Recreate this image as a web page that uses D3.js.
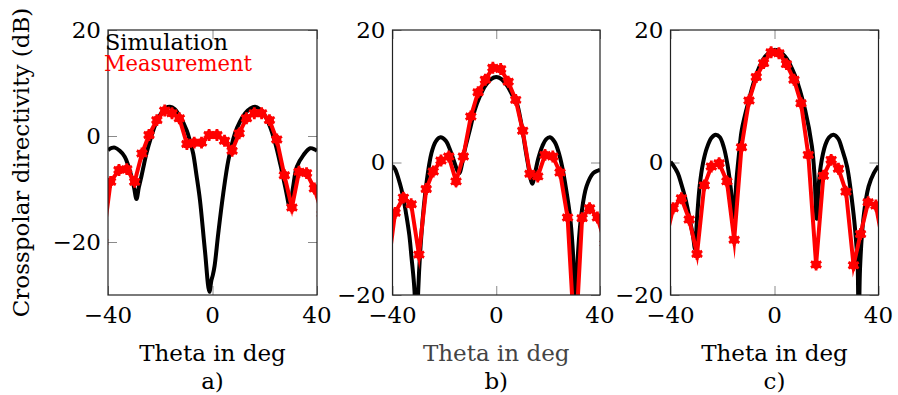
<!DOCTYPE html>
<html>
<head>
<meta charset="utf-8">
<script src="https://cdn.jsdelivr.net/npm/d3@7"></script>
<style>
  html, body { margin: 0; padding: 0; background: #fff; }
  svg { display: block; }
</style>
</head>
<body>
<svg id="chart" width="898" height="395" font-family="'DejaVu Serif', serif"></svg>
<script>
// Measured angles (deg), shared by the three measurement series
const measTheta = [-42.0, -39.0, -35.8, -32.8, -29.8, -27.0, -24.3, -21.3, -18.3, -15.5,
  -12.7, -9.8, -7.0, -4.2, -1.3, 1.7, 4.6, 7.5, 10.2, 13.0,
  16.0, 18.8, 21.8, 24.6, 27.5, 30.4, 33.1, 36.0, 39.0, 42.0];

// Panel a)
const measA = [-20.0, -8.65, -6.4, -6.25, -8.65, -3.3, 0.2, 3.0, 4.8, 4.3,
  3.35, -1.5, -1.25, -1.25, 0.2, 0.2, -0.9, -2.8, 0.5, 3.35,
  4.3, 4.3, 3.0, -0.65, -7.4, -13.5, -6.75, -7.0, -9.9, -14.7];
const simThetaA = [-40, -38.5, -37.4, -35.5, -33.6, -32.3, -31.0, -30.0, -29.1, -28.2,
  -27.2, -26.2, -25.3, -23.5, -21.5, -19.5, -17.8, -16.3, -14.5, -12.5,
  -9.9, -8.6, -7.4, -6.1, -4.8, -2.9, -1.2, -0.4, 0.1, 0.8,
  2.2, 4.1, 6.1, 8.6, 10.5, 12.5, 14.5, 16.3, 18.0, 20.0,
  22.0, 24.0, 26.0, 28.0, 29.6, 30.8, 32.3, 34.8, 37.4, 39.3, 40];
const simA = [-2.65, -2.25, -2.2, -2.8, -3.9, -5.5, -7.7, -9.8, -11.9, -9.7,
  -7.6, -5.3, -3.3, -0.2, 2.6, 4.4, 5.3, 5.5, 5.1, 3.7,
  1.1, -1.0, -3.3, -7.5, -12.1, -21.6, -29.4, -27.2, -26.3, -24.5,
  -18.4, -10.9, -4.5, 0.5, 2.7, 4.3, 5.2, 5.5, 5.1, 3.9,
  1.8, -1.3, -5.4, -10.0, -13.4, -9.8, -5.8, -3.6, -2.3, -2.6, -2.8];

// Panel b)
const measB = [-16.6, -7.6, -5.3, -6.3, -13.9, -4.0, -1.35, 0.3, 0.9, -2.85,
  0.9, 6.95, 10.6, 12.5, 14.3, 14.1, 12.2, 9.45, 4.8, -1.7,
  -2.1, 1.15, 0.9, -1.5, -8.3, -28.0, -8.4, -6.9, -8.3, -12.2];
const simThetaB = [-40, -39, -37.2, -36, -34.6, -33.5, -32.7, -31.5, -30.8, -30.1,
  -28.8, -26.9, -25.0, -23.3, -21.5, -19.5, -17.8, -16.2, -15.0, -14.2,
  -13.4, -12.2, -10.2, -8.3, -6.3, -4.2, -2.0, 0, 2.0, 4.2,
  6.3, 7.9, 9.5, 10.5, 12.0, 13.9, 15.0, 16.2, 17.8, 19.2,
  20.7, 22.5, 24.0, 25.5, 27.0, 28.4, 29.4, 30.1, 30.6, 31.1,
  31.6, 32.9, 34.8, 37.4, 39.3, 40];
const simB = [-0.5, -1.0, -3.1, -5.0, -8.1, -11.0, -14.2, -19.5, -32.0, -19.5,
  -10.6, -3.1, 1.4, 3.2, 3.8, 3.3, 1.9, 0.1, -1.2, -1.6,
  -0.6, 1.8, 4.9, 7.9, 10.0, 11.6, 12.6, 12.9, 12.6, 11.6,
  10.1, 9.0, 6.2, 3.9, 0.3, -3.2, -1.5, 0.6, 2.5, 3.5,
  3.8, 3.1, 1.6, -0.8, -4.2, -8.0, -12.5, -18.0, -30.0, -18.0,
  -13.2, -7.6, -3.6, -1.6, -1.2, -1.1];

// Panel c)
const measC = [-12.0, -6.9, -5.4, -8.6, -13.8, -3.45, -0.6, -0.1, -2.85, -11.65,
  2.3, 9.35, 12.9, 15.0, 16.65, 16.5, 14.85, 12.5, 8.95, 1.15,
  -15.4, -2.0, 0.4, -0.95, -4.4, -15.5, -10.8, -6.0, -6.5, -12.8];
const simThetaC = [-40, -39, -37.2, -35.8, -34.5, -33.5, -32.6, -31.3, -30.6, -29.8,
  -28.8, -27.5, -26.0, -24.3, -22.6, -21.0, -19.5, -18.0, -16.8, -15.7,
  -14.6, -13.6, -12.6, -10.0, -6.8, -3.6, 0, 4.1, 8.0, 11.8,
  14.4, 15.4, 16.2, 17.0, 17.8, 19.5, 21.0, 22.7, 24.5, 26.0,
  27.9, 30.5, 31.5, 32.0, 32.4, 32.9, 34.3, 36.2, 38.2, 40];
const simC = [0.1, -0.4, -1.6, -3.3, -5.1, -6.8, -8.6, -11.2, -13.0, -8.5,
  -3.6, -0.1, 2.2, 3.7, 4.2, 3.8, 2.3, -0.5, -4.0, -8.3,
  -2.5, 1.5, 4.9, 9.2, 13.5, 16.0, 17.0, 16.0, 13.0, 7.9,
  2.4, -2.0, -8.5, -3.5, -0.5, 2.6, 3.8, 4.2, 3.6, 2.0,
  -0.6, -8.1, -12.5, -15.7, -30.0, -16.0, -8.1, -3.6, -1.6, -0.5];

// Axes
const xTicks = [-40, 0, 40];
const yTicks = [-20, 0, 20];
const yDomainA = [-30, 20];
const yDomainBC = [-20, 20];
const xDomain = [-40, 40];

// Text
const panelLabels = ["a)", "b)", "c)"];
const xTitle = "Theta in deg";
const yTitle = "Crosspolar directivity (dB)";
const seriesNames = ["Simulation", "Measurement"];

const panels = [
  { sx: simThetaA, sy: simA, my: measA, yDomain: yDomainA, left: 108, right: 317 },
  { sx: simThetaB, sy: simB, my: measB, yDomain: yDomainBC, left: 392.5, right: 600 },
  { sx: simThetaC, sy: simC, my: measC, yDomain: yDomainBC, left: 670.5, right: 878.5 }
];

const plotTop = 30, plotBottom = 295;
const FONT = 23;
const svg = d3.select("#chart");
const fmt = d3.format("d");

panels.forEach((p, i) => {
  const x = d3.scaleLinear().domain(xDomain).range([p.left, p.right]);
  const y = d3.scaleLinear().domain(p.yDomain).range([plotBottom, plotTop]);
  const g = svg.append("g");
  const clipId = "clip-" + i;

  g.append("clipPath").attr("id", clipId)
    .append("rect")
    .attr("x", p.left).attr("y", plotTop)
    .attr("width", p.right - p.left).attr("height", plotBottom - plotTop);

  // inward ticks on all four sides
  const tickLen = 9;
  const tickColor = "#8a8a8a";
  g.append("g").attr("transform", `translate(0,${plotBottom})`)
    .call(d3.axisTop(x).tickValues(xTicks).tickSize(tickLen).tickFormat(""))
    .call(a => a.select(".domain").remove())
    .selectAll("line").attr("stroke", tickColor);
  g.append("g").attr("transform", `translate(0,${plotTop})`)
    .call(d3.axisBottom(x).tickValues(xTicks).tickSize(tickLen).tickFormat(""))
    .call(a => a.select(".domain").remove())
    .selectAll("line").attr("stroke", tickColor);
  g.append("g").attr("transform", `translate(${p.left},0)`)
    .call(d3.axisRight(y).tickValues(yTicks).tickSize(tickLen).tickFormat(""))
    .call(a => a.select(".domain").remove())
    .selectAll("line").attr("stroke", tickColor);
  g.append("g").attr("transform", `translate(${p.right},0)`)
    .call(d3.axisLeft(y).tickValues(yTicks).tickSize(tickLen).tickFormat(""))
    .call(a => a.select(".domain").remove())
    .selectAll("line").attr("stroke", tickColor);

  // tick labels
  g.selectAll(".xl").data(xTicks).join("text")
    .attr("x", d => x(d)).attr("y", 323)
    .attr("text-anchor", "middle").attr("font-size", FONT)
    .text(d => fmt(d));
  g.selectAll(".yl").data(yTicks).join("text")
    .attr("x", p.left - 7).attr("y", d => y(d)).attr("dy", "0.34em")
    .attr("text-anchor", "end").attr("font-size", FONT)
    .text(d => fmt(d));

  // simulation curve
  const simPts = p.sx.map((t, k) => [t, p.sy[k]]);
  const plot = g.append("g").attr("clip-path", `url(#${clipId})`);
  plot.append("path")
    .datum(simPts)
    .attr("fill", "none").attr("stroke", "#000").attr("stroke-width", 4)
    .attr("stroke-linejoin", "miter").attr("stroke-miterlimit", 10)
    .attr("d", d3.line().x(d => x(d[0])).y(d => y(d[1])).curve(d3.curveCatmullRom.alpha(0.5)));

  // measurement curve with markers
  const measPts = measTheta.map((t, k) => [t, p.my[k]]);
  plot.append("path")
    .datum(measPts)
    .attr("fill", "none").attr("stroke", "#ff0000").attr("stroke-width", 4)
    .attr("stroke-linejoin", "miter").attr("stroke-miterlimit", 10)
    .attr("d", d3.line().x(d => x(d[0])).y(d => y(d[1])));
  const star = d3.symbol().type(d3.symbolAsterisk).size(100);
  const mk = plot.selectAll(".mk").data(measPts).join("g")
    .attr("transform", d => `translate(${x(d[0])},${y(d[1])})`);
  mk.append("circle").attr("r", 4.6).attr("fill", "#ff0000");
  mk.append("path").attr("d", star).attr("stroke", "#ff0000")
    .attr("stroke-width", 2.8).attr("fill", "none");

  // frame
  g.append("rect")
    .attr("x", p.left).attr("y", plotTop)
    .attr("width", p.right - p.left).attr("height", plotBottom - plotTop)
    .attr("fill", "none").attr("stroke", "#222").attr("stroke-width", 1.2);

  // axis title and panel label
  const cx = (p.left + p.right) / 2;
  g.append("text").attr("x", cx).attr("y", 361)
    .attr("text-anchor", "middle").attr("font-size", FONT)
    .attr("fill", i === 1 ? "#444" : "#000")
    .text(xTitle);
  g.append("text").attr("x", cx).attr("y", 389)
    .attr("text-anchor", "middle").attr("font-size", FONT)
    .text(panelLabels[i]);
});

// y axis title
svg.append("text")
  .attr("transform", `translate(29,${(plotTop + plotBottom) / 2}) rotate(-90)`)
  .attr("text-anchor", "middle").attr("font-size", FONT)
  .text(yTitle);

// legend
svg.append("text").attr("x", 105).attr("y", 50).attr("font-size", FONT)
  .attr("textLength", 123).attr("lengthAdjust", "spacingAndGlyphs")
  .attr("fill", "#000").text(seriesNames[0]);
svg.append("text").attr("x", 104).attr("y", 71).attr("font-size", FONT)
  .attr("textLength", 148).attr("lengthAdjust", "spacingAndGlyphs")
  .attr("fill", "#ff0000").text(seriesNames[1]);
</script>
</body>
</html>
